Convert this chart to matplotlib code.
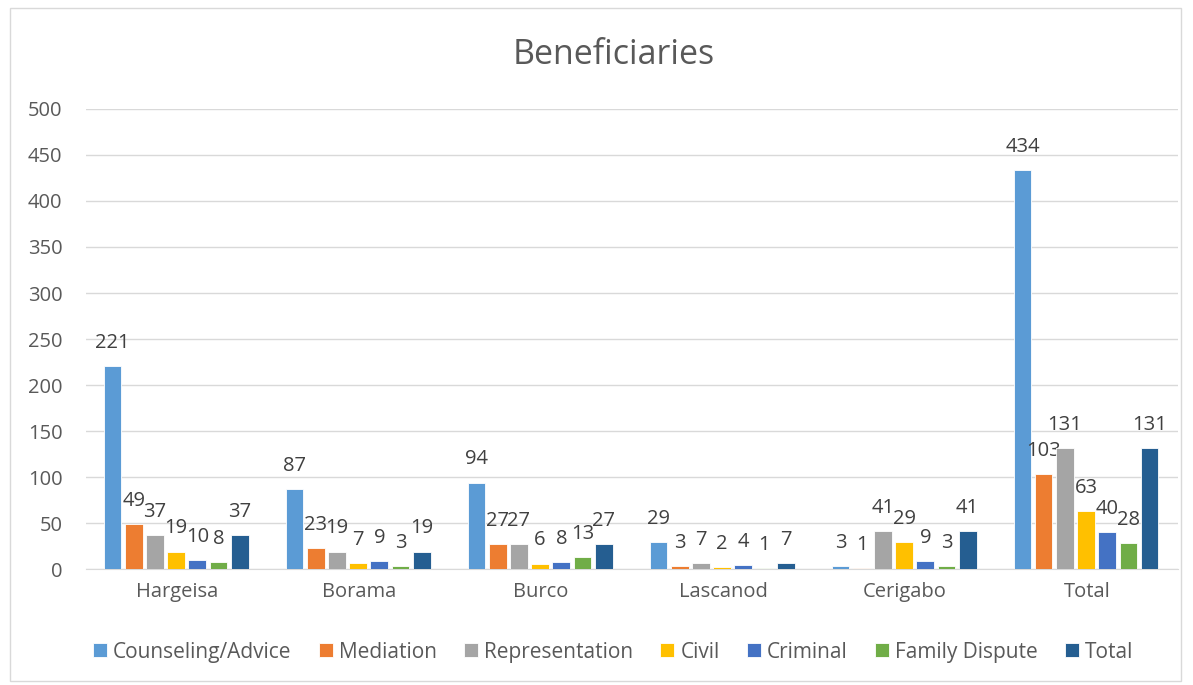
import matplotlib
matplotlib.use("Agg")
import matplotlib.pyplot as plt
import numpy as np
from matplotlib.patches import Rectangle

plt.rcParams['font.family'] = ['Open Sans', 'DejaVu Sans']

categories = ["Hargeisa", "Borama", "Burco", "Lascanod", "Cerigabo", "Total"]
series_names = ["Counseling/Advice", "Mediation", "Representation", "Civil",
                "Criminal", "Family Dispute", "Total"]
counseling = [221, 87, 94, 29, 3, 434]
mediation = [49, 23, 27, 3, 1, 103]
representation = [37, 19, 27, 7, 41, 131]
civil = [19, 7, 6, 2, 29, 63]
criminal = [10, 9, 8, 4, 9, 40]
family = [8, 3, 13, 1, 3, 28]
total = [37, 19, 27, 7, 41, 131]
colors = ["#5B9BD5", "#ED7D31", "#A5A5A5", "#FFC000", "#4472C4", "#70AD47", "#255E91"]

series = [counseling, mediation, representation, civil, criminal, family, total]

fig = plt.figure(figsize=(11.93, 6.85), dpi=100)
ax = fig.add_axes([0.0721, 0.1693, 0.9153, 0.6716])

x = np.arange(len(categories))
slot = 0.1165
bw = 0.097
for i, (vals, c, name) in enumerate(zip(series, colors, series_names)):
    pos = x - slot * 3.5 + slot * (i + 0.5) - 0.005
    ax.bar(pos, vals, width=bw, color=c, label=name, zorder=3,
           edgecolor='white', linewidth=0.6)
    for xp, v in zip(pos, vals):
        ax.annotate(str(v), (xp, v), xytext=(0, 13), textcoords='offset points',
                    ha='center', va='baseline', fontsize=14.5, color='#404040')

ax.set_ylim(0, 500)
ax.set_xlim(-0.5, 5.5)
ax.set_yticks(range(0, 501, 50))
ax.set_xticks(x)
ax.set_xticklabels(categories)
ax.tick_params(axis='both', labelsize=14.5, colors='#595959', length=0)
ax.tick_params(axis='x', pad=9)
ax.tick_params(axis='y', pad=17)
ax.grid(axis='y', color='#D9D9D9', linewidth=1, zorder=0)
for s in ['top', 'right', 'left']:
    ax.spines[s].set_visible(False)
ax.spines['bottom'].set_color('#D9D9D9')

fig.text(0.514, 0.92, "Beneficiaries", ha='center', va='center', fontsize=24.5, color='#595959')

leg = fig.legend(loc='center', bbox_to_anchor=(0.514, 0.048), ncol=7, frameon=False,
                 fontsize=15, handlelength=0.67, handleheight=0.67, handletextpad=0.3,
                 columnspacing=1.3)
for t in leg.get_texts():
    t.set_color('#595959')

fig.patches.append(Rectangle((0.008, 0.006), 0.982, 0.982, transform=fig.transFigure,
                             fill=False, edgecolor='#D9D9D9', linewidth=1))

fig.savefig("out.png", dpi=100)
